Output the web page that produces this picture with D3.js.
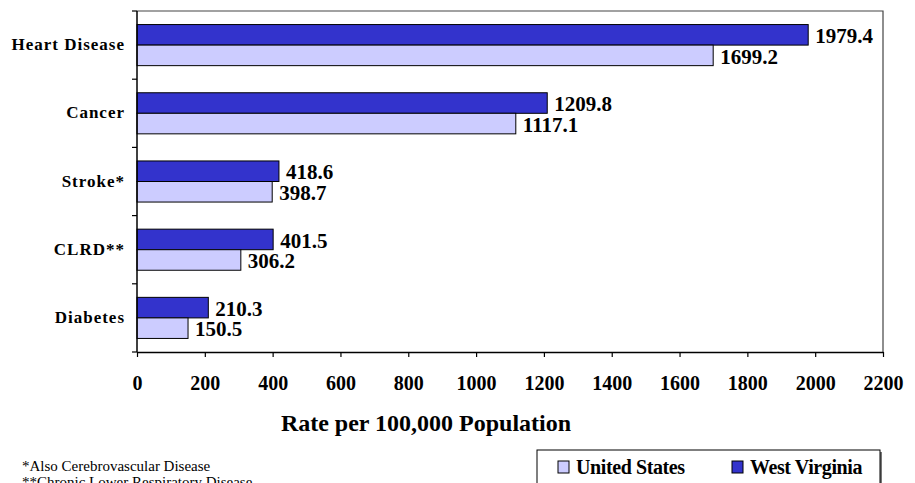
<!DOCTYPE html>
<html>
<head>
<meta charset="utf-8">
<script src="https://cdn.jsdelivr.net/npm/d3@7"></script>
<style>
  body { margin: 0; background: #fff; }
  svg text { font-family: "Liberation Serif", "Times New Roman", serif; fill: #000; }
  .cat { font-weight: bold; font-size: 17px; letter-spacing: 1px; }
  .val { font-weight: bold; font-size: 21px; }
  .tick-label { font-weight: bold; font-size: 20px; }
  .axis-title { font-weight: bold; font-size: 24px; }
  .legend-label { font-weight: bold; font-size: 20px; letter-spacing: -0.4px; }
  .note { font-size: 15px; }
</style>
</head>
<body>
<div id="chart-container"></div>
<script>
const categories = ['Heart Disease', 'Cancer', 'Stroke*', 'CLRD**', 'Diabetes'];
const seriesNames = ['West Virginia', 'United States'];
const westVirginia = [1979.4, 1209.8, 418.6, 401.5, 210.3];
const unitedStates = [1699.2, 1117.1, 398.7, 306.2, 150.5];
const xTicks = [0, 200, 400, 600, 800, 1000, 1200, 1400, 1600, 1800, 2000, 2200];
const notes = ['*Also Cerebrovascular Disease', '**Chronic Lower Respiratory Disease'];

const colors = { 'West Virginia': '#3333cc', 'United States': '#ccccff' };

const width = 915,
  height = 483;
const margin = { top: 11, right: 32, bottom: 131, left: 137 };

const svg = d3.select('div#chart-container')
  .append('svg')
  .attr('width', width)
  .attr('height', height)
  .attr('font-family', '"Liberation Serif", serif');

const xScale = d3.scaleLinear()
  .domain([0, 2200])
  .range([margin.left, width - margin.right]);

const yScale = d3.scaleBand()
  .domain(categories)
  .range([margin.top, height - margin.bottom]);

// two bars inside each category band
const subScale = d3.scaleBand()
  .domain(seriesNames)
  .range([0, yScale.bandwidth()])
  .paddingOuter(0.66);

const rows = categories.map((c, i) => ({
  cat: c,
  values: [
    { name: 'West Virginia', value: westVirginia[i] },
    { name: 'United States', value: unitedStates[i] }
  ]
}));

// plot frame (top and right)
svg.append('path')
  .attr('d', `M${xScale(0)},${margin.top}H${xScale(2200)}V${height - margin.bottom}`)
  .attr('fill', 'none')
  .attr('stroke', '#444')
  .attr('stroke-width', 1.2);

const groups = svg.selectAll('g.row')
  .data(rows)
  .enter()
  .append('g')
  .attr('class', 'row')
  .attr('transform', d => `translate(0, ${yScale(d.cat)})`);

groups.selectAll('rect')
  .data(d => d.values)
  .enter()
  .append('rect')
  .attr('x', xScale(0))
  .attr('y', d => subScale(d.name))
  .attr('width', d => xScale(d.value) - xScale(0))
  .attr('height', subScale.bandwidth())
  .attr('fill', d => colors[d.name])
  .attr('stroke', '#000')
  .attr('stroke-width', 1);

groups.selectAll('text.val')
  .data(d => d.values)
  .enter()
  .append('text')
  .attr('class', 'val')
  .attr('x', d => xScale(d.value) + 7)
  .attr('y', d => subScale(d.name) + subScale.bandwidth() - 2)
  .text(d => d.value.toFixed(1));

// category labels
svg.selectAll('text.cat')
  .data(categories)
  .enter()
  .append('text')
  .attr('class', 'cat')
  .attr('x', 125)
  .attr('y', d => yScale(d) + yScale.bandwidth() / 2 + 5)
  .attr('text-anchor', 'end')
  .text(d => d);

// y axis line and ticks at band boundaries
const bounds = categories.map(c => yScale(c)).concat([yScale.range()[1]]);
svg.append('line')
  .attr('x1', xScale(0)).attr('x2', xScale(0))
  .attr('y1', margin.top).attr('y2', height - margin.bottom)
  .attr('stroke', '#000').attr('stroke-width', 1.5);
svg.selectAll('line.ytick')
  .data(bounds)
  .enter()
  .append('line')
  .attr('class', 'ytick')
  .attr('x1', xScale(0) - 5).attr('x2', xScale(0))
  .attr('y1', d => d).attr('y2', d => d)
  .attr('stroke', '#000').attr('stroke-width', 1.2);

// x axis
const xAxis = svg.append('g')
  .attr('transform', `translate(0, ${height - margin.bottom})`)
  .call(d3.axisBottom(xScale).tickValues(xTicks).tickSize(5).tickSizeOuter(0).tickFormat(d3.format('')));
xAxis.attr('font-family', null).attr('font-size', null);
xAxis.select('.domain').attr('stroke', '#000').attr('stroke-width', 1.5);
xAxis.selectAll('.tick line').attr('stroke', '#000').attr('stroke-width', 1.2);
xAxis.selectAll('.tick text')
  .attr('class', 'tick-label')
  .attr('y', 24)
  .attr('dy', '0.71em');

svg.append('text')
  .attr('class', 'axis-title')
  .attr('x', 426)
  .attr('y', 431)
  .attr('text-anchor', 'middle')
  .text('Rate per 100,000 Population');

// footnotes (the second line is cut by the bottom edge, as in the source)
svg.selectAll('text.note')
  .data(notes)
  .enter()
  .append('text')
  .attr('class', 'note')
  .attr('x', 22)
  .attr('y', (_, i) => 471 + i * 16)
  .text(d => d);

// legend
const legend = svg.append('g').attr('transform', 'translate(537, 450)');
legend.append('rect')
  .attr('x', 2).attr('y', 2)
  .attr('width', 343).attr('height', 60)
  .attr('fill', '#777');
legend.append('rect')
  .attr('width', 343).attr('height', 60)
  .attr('fill', '#fff')
  .attr('stroke', '#000')
  .attr('stroke-width', 1);

const legendItems = [
  { name: 'United States', x: 21 },
  { name: 'West Virginia', x: 195 }
];
legendItems.forEach(item => {
  legend.append('rect')
    .attr('x', item.x).attr('y', 11)
    .attr('width', 11).attr('height', 12)
    .attr('fill', colors[item.name])
    .attr('stroke', '#000')
    .attr('stroke-width', 1);
  legend.append('text')
    .attr('class', 'legend-label')
    .attr('x', item.x + 18)
    .attr('y', 24)
    .text(item.name);
});
</script>
</body>
</html>
